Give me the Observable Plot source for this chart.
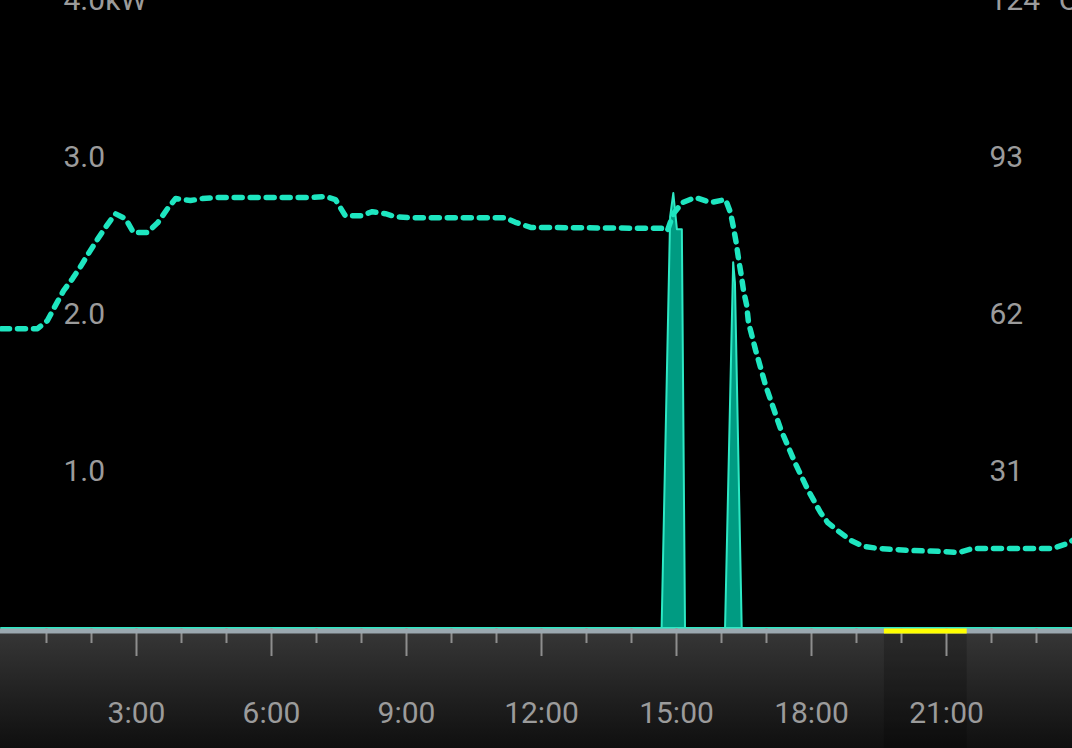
<!DOCTYPE html>
<html>
<head>
<meta charset="utf-8">
<script src="https://cdn.jsdelivr.net/npm/d3@7"></script>
<script src="https://cdn.jsdelivr.net/npm/@observablehq/plot@0.6"></script>
<style>
html, body { margin: 0; padding: 0; background: #000; overflow: hidden; }
#chart {
  position: relative; width: 1072px; height: 748px;
  background: linear-gradient(to bottom, #000 0px, #000 632px, #363636 632px, #0f0f0f 748px);
}
#chart svg { display: block; }
</style>
</head>
<body>
<div id="chart"></div>
<script>
// Temperature (°C) by hour of day
const tempHours = [0, 0.8, 1.02, 1.2, 1.38, 1.58, 1.76, 1.93, 2.13, 2.31, 2.53, 2.76, 2.93, 3.24, 3.47, 3.69, 3.87, 4.2, 4.47, 4.8, 6.87, 7.2, 7.42, 7.64, 7.98, 8.24, 8.53, 8.76, 9.09, 11.2, 11.42, 11.76, 14.76, 14.8, 14.93, 15.13, 15.42, 15.76, 16.09, 16.2, 16.27, 16.33, 16.38, 16.44, 16.49, 16.56, 16.6, 16.76, 16.98, 17.31, 17.64, 17.93, 18.2, 18.36, 18.6, 18.87, 19.16, 19.49, 20.2, 20.93, 21.27, 21.58, 22.27, 23.36, 23.69, 23.8];
const tempValues = [59.2, 59.2, 60.8, 63.8, 66.7, 69.1, 71.5, 74.0, 76.8, 79.2, 81.9, 80.9, 78.2, 78.2, 80.1, 82.9, 84.9, 84.5, 84.9, 85.1, 85.1, 85.3, 84.7, 81.5, 81.5, 82.3, 81.9, 81.3, 81.1, 81.1, 80.2, 79.2, 79.0, 78.6, 81.9, 84.1, 85.1, 84.1, 84.7, 82.1, 79.0, 76.0, 72.9, 69.7, 66.7, 63.8, 60.4, 54.9, 48.0, 39.5, 32.6, 27.2, 22.9, 20.9, 19.2, 17.4, 16.2, 15.8, 15.4, 15.2, 15.0, 15.8, 15.8, 15.8, 16.8, 17.4];

// Power (kW) by hour of day
const powerHours = [0, 14.68, 14.87, 14.94, 15.02, 15.13, 15.20, 16.09, 16.27, 16.31, 16.46, 23.8];
const powerValues = [0, 0, 2.62, 2.77, 2.54, 2.54, 0, 0, 2.33, 2.2, 0, 0];

const leftTicks = [1, 2, 3, 4];
const leftLabels = ["1.0", "2.0", "3.0", "4.0kW"];
const rightTicks = [31, 62, 93, 124];
const rightLabels = ["31", "62", "93", "124 °C"];
const majorHours = [3, 6, 9, 12, 15, 18, 21];
const majorLabels = ["3:00", "6:00", "9:00", "12:00", "15:00", "18:00", "21:00"];
const minorHours = [1, 2, 4, 5, 7, 8, 10, 11, 13, 14, 16, 17, 19, 20, 22, 23];
const highlightStart = 19.62, highlightEnd = 21.46;

const powerMax = 4, tempMax = 124;
const k = powerMax / tempMax;
const stripDepth = -0.77; // depth of the time strip below zero, in kW units

const temps = tempHours.map((h, i) => ({h, v: tempValues[i] * k}));
const power = powerHours.map((h, i) => ({h, v: powerValues[i]}));
const band = [{a: highlightStart, b: highlightEnd}];

const chart = Plot.plot({
  width: 1072, height: 748,
  marginTop: 0, marginBottom: 120, marginLeft: 0, marginRight: 0,
  x: {domain: [0, 23.8], range: [1, 1072], axis: null},
  y: {domain: [0, powerMax], range: [628, 0], axis: null},
  style: {background: "transparent", fontFamily: "Roboto, sans-serif", overflow: "visible"},
  marks: [
    Plot.rect(band, {x1: "a", x2: "b", y1: () => 0, y2: () => stripDepth, fill: "#000", fillOpacity: 0.2}),
    Plot.areaY(power, {x: "h", y: "v", fill: "#009b82", stroke: "#2de8c4", strokeWidth: 2}),
    Plot.line(temps, {x: "h", y: "v", stroke: "#1ee6c0", strokeWidth: 5.5, strokeDasharray: "8,8"}),
    Plot.axisX({ticks: minorHours, tickSize: 15, tickFormat: () => "", label: null, stroke: "#8e8e8e", strokeWidth: 2}),
    Plot.axisX({ticks: majorHours, tickSize: 28, tickFormat: () => "", label: null, stroke: "#8e8e8e", strokeWidth: 2}),
    Plot.axisX({ticks: majorHours, tickSize: 0, tickPadding: 73, tickFormat: (d) => majorLabels[majorHours.indexOf(d)], label: null, fill: "#9b9b9b", fontSize: 30}),
    Plot.ruleY([0], {stroke: "#9ba8b0", strokeWidth: 5, dy: 2.5}),
    Plot.ruleY(band, {y: () => 0, x1: "a", x2: "b", stroke: "#ffff00", strokeWidth: 5, dy: 2.5}),
    Plot.text(leftTicks, {y: (d) => d, text: (d, i) => leftLabels[i], frameAnchor: "left", dx: 63, textAnchor: "start", lineAnchor: "middle", fill: "#9b9b9b", fontSize: 30}),
    Plot.text(rightTicks, {y: (d) => d * k, text: (d, i) => rightLabels[i], frameAnchor: "left", dx: 989, textAnchor: "start", lineAnchor: "middle", fill: "#9b9b9b", fontSize: 30})
  ]
});
document.getElementById("chart").appendChild(chart);
</script>
</body>
</html>
